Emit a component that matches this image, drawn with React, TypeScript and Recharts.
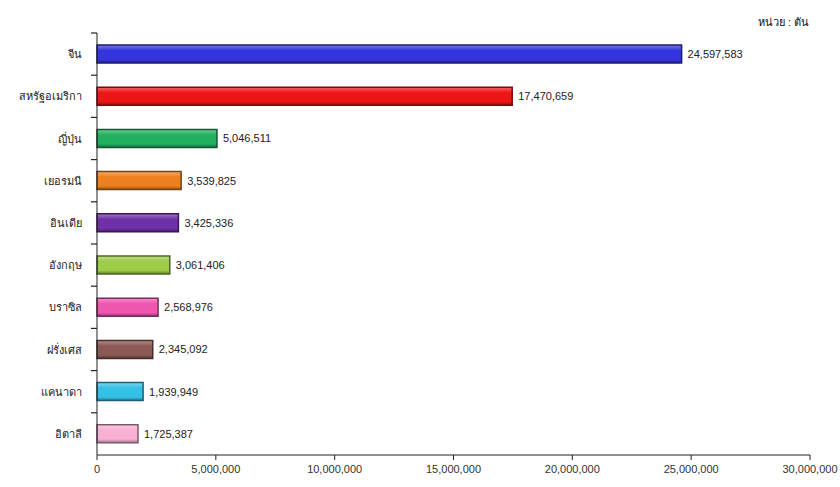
import { BarChart, Bar, XAxis, YAxis, Cell, LabelList } from 'recharts';

// ปริมาณ (หน่วย : ตัน)
const countries = ['จีน', 'สหรัฐอเมริกา', 'ญี่ปุ่น', 'เยอรมนี', 'อินเดีย', 'อังกฤษ', 'บราซิล', 'ฝรั่งเศส', 'แคนาดา', 'อิตาลี'];
const amounts = [24597583, 17470659, 5046511, 3539825, 3425336, 3061406, 2568976, 2345092, 1939949, 1725387];
const barColors = ['#3535e0', '#ee1515', '#22b060', '#ee8020', '#7030a8', '#9ccc48', '#f055b0', '#8c5a56', '#35c0e8', '#f8b0d4'];
const xTicks = [0, 5000000, 10000000, 15000000, 20000000, 25000000, 30000000];

const data = countries.map((name, i) => ({ name, value: amounts[i] }));

const fmt = (v: number) => v.toLocaleString('en-US');

const PLOT_H = 422;
const BAND = PLOT_H / countries.length;

function CountryTick({ x, y, payload }: any) {
  return (
    <g>
      <line x1={x + 2} x2={x + 8} y1={y - BAND / 2} y2={y - BAND / 2} stroke="#222" strokeWidth={1.2} />
      <text x={x - 7} y={y} dy={4} textAnchor="end" fontSize={11} fill="#222">
        {payload.value}
      </text>
    </g>
  );
}

function shade(hex: string, f: number) {
  const n = parseInt(hex.slice(1), 16);
  const c = [(n >> 16) & 255, (n >> 8) & 255, n & 255].map((v) =>
    Math.round(f > 0 ? v + (255 - v) * f : v * (1 + f))
  );
  return `rgb(${c[0]},${c[1]},${c[2]})`;
}

export default function App() {
  return (
    <div style={{ position: 'absolute', left: 0, top: 0, background: '#fff', fontFamily: '"Liberation Sans", Arial, sans-serif' }}>
      <div style={{ position: 'absolute', left: 758, top: 13, fontSize: 11, color: '#111' }}>หน่วย : ตัน</div>
      <BarChart
        width={840}
        height={487}
        data={data}
        layout="vertical"
        margin={{ top: 33, right: 30, left: 0, bottom: 5 }}
      >
        <defs>
          {barColors.map((c, i) => (
            <linearGradient key={i} id={`g${i}`} x1="0" y1="0" x2="0" y2="1">
              <stop offset="0%" stopColor={shade(c, 0.35)} />
              <stop offset="30%" stopColor={c} />
              <stop offset="80%" stopColor={c} />
              <stop offset="100%" stopColor={shade(c, -0.35)} />
            </linearGradient>
          ))}
        </defs>
        <XAxis
          type="number"
          domain={[0, 30000000]}
          ticks={xTicks}
          tickFormatter={fmt}
          height={27}
          tick={{ fill: '#333', fontSize: 11, dy: 3 }}
          stroke="#222"
          tickSize={5}
          interval={0}
        />
        <YAxis
          type="category"
          dataKey="name"
          width={97}
          stroke="#222"
          tickLine={false}
          tick={<CountryTick />}
          interval={0}
        />
        <Bar dataKey="value" barSize={18} isAnimationActive={false}>
          {data.map((d, i) => (
            <Cell key={d.name} fill={`url(#g${i})`} stroke={shade(barColors[i], -0.5)} strokeWidth={1.5} />
          ))}
          <LabelList dataKey="value" position="right" offset={6} formatter={(v: any) => fmt(Number(v))} fill="#222" fontSize={11} />
        </Bar>
      </BarChart>
    </div>
  );
}
